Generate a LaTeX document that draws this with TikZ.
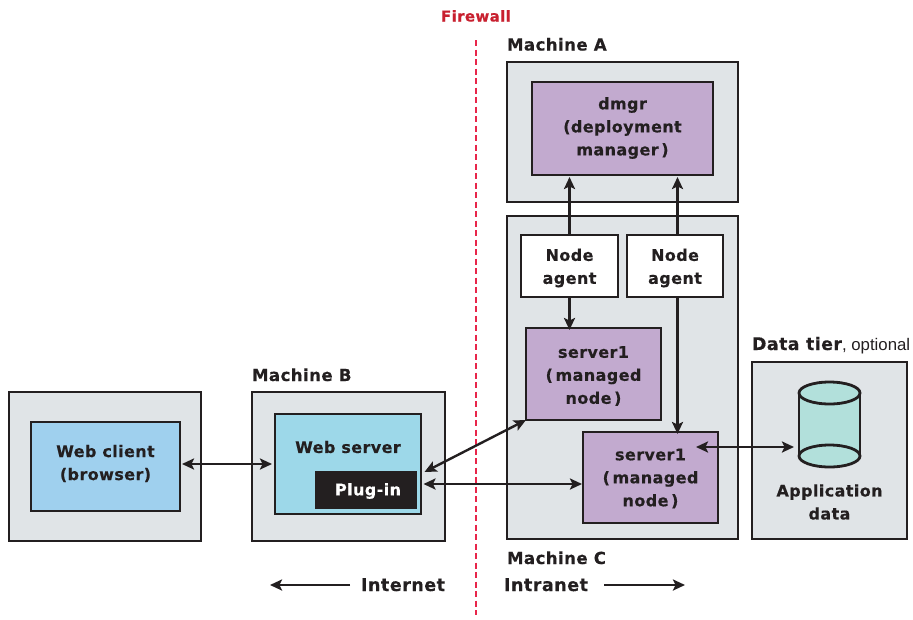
\documentclass[tikz,border=0pt]{standalone}
\usepackage{fontspec}
\setmainfont{Liberation Sans}
\newfontfamily\heavy[LetterSpace=2.5,FakeBold=0.35]{DejaVu Sans Bold}
\usetikzlibrary{arrows.meta,shapes.geometric}
\definecolor{ink}{HTML}{231F20}
\definecolor{panel}{HTML}{E0E4E7}
\definecolor{lilac}{HTML}{C2AACF}
\definecolor{sky}{HTML}{9FD0EE}
\definecolor{aqua}{HTML}{9DD8E9}
\definecolor{mint}{HTML}{B2E0DB}
\definecolor{fwred}{HTML}{C8202F}
\definecolor{fwline}{HTML}{E8254A}
\tikzset{
  x=1pt,y=-1pt,
  every node/.style={inner sep=0pt,outer sep=0pt,text=ink,font=\heavy\fontsize{16}{23}\selectfont,align=center},
  boxbase/.style={draw=ink,line width=2.8pt,rectangle,minimum width=#1},
  panelbox/.style={boxbase=#1,fill=panel},
  lilacbox/.style={boxbase=#1,fill=lilac},
  whitebox/.style={boxbase=#1,fill=white},
  lbl/.style={anchor=base west},
  biglbl/.style={lbl,font=\heavy\fontsize{16.6}{23}\selectfont},
  zonelbl/.style={lbl,font=\heavy\fontsize{17.6}{23}\selectfont},
  conn/.style={draw=ink,line width=2.4pt,-{Stealth[length=12pt,width=11pt,inset=2.5pt]}},
  biconn/.style={draw=ink,line width=2.4pt,{Stealth[length=12pt,width=11pt,inset=2.5pt]}-{Stealth[length=12pt,width=11pt,inset=2.5pt]}},
}
\begin{document}
\begin{tikzpicture}
\useasboundingbox (0,0) rectangle (913,619);
% firewall
\coordinate (fwtop) at (476,40);
\coordinate (fwbot) at (476,615);
\draw[fwline,line width=1.8pt,dash pattern=on 6pt off 3.5pt] (fwtop) -- (fwbot);
\node[lbl,text=fwred,font=\heavy\fontsize{15}{17}\selectfont] (fwlabel) at (441,21.5) {Firewall};
% panels
\node[panelbox=231,minimum height=140] (machA) at (622.5,132) {};
\node[panelbox=231,minimum height=323] (machC) at (622.5,377.5) {};
\node[panelbox=193,minimum height=149] (machB) at (348.5,466.5) {};
\node[panelbox=192,minimum height=149] (machW) at (105,466.5) {};
\node[panelbox=155,minimum height=177] (machD) at (829.5,450.5) {};
% labels
\node[biglbl] (lA) at (507,50.5) {Machine A};
\node[biglbl] (lB) at (252,381) {Machine B};
\node[biglbl] (lC) at (507,564) {Machine C};
\node[lbl,font=\heavy\fontsize{17.4}{23}\selectfont] (lD) at (752,350) {Data tier\fontspec{Liberation Sans}\fontsize{16.8}{20}\selectfont, optional};
% inner boxes
\node[lilacbox=181,minimum height=93] (dmgr) at (622.5,128.5) {};
\node (dmgrtxt) at (622.5,128) {dmgr\\(deployment\\manager\,)};
\node[whitebox=97,minimum height=62] (agent1) at (569.5,266) {};
\node (a1txt) at (569.5,268) {Node\\agent};
\node[whitebox=96,minimum height=62] (agent2) at (675,266) {};
\node (a2txt) at (675,268) {Node\\agent};
\node[lilacbox=135,minimum height=92] (srvA) at (593.5,374) {};
\node (sAtxt) at (593.5,376) {server1\\(\,managed\\node\,)};
\node[lilacbox=135,minimum height=91] (srvB) at (650.5,477.5) {};
\node (sBtxt) at (650.5,478.5) {server1\\(\,managed\\node\,)};
\node[boxbase=149,fill=sky,minimum height=89] (client) at (105.5,466.5) {};
\node (clitxt) at (105.5,463.5) {Web client\\(browser)};
\node[boxbase=146,fill=aqua,minimum height=100] (web) at (348,464) {};
\node (webtxt) at (348,447) {Web server};
\node[fill=ink,minimum width=102,minimum height=38] (plug) at (366,490) {};
\node[text=white] (plugtxt) at (368,491) {Plug-in};
% cylinder
\coordinate (cylT) at (829.5,393);
\coordinate (cylB) at (829.5,456);
\fill[mint] (799,393) -- (799,456) arc[start angle=180,end angle=360,x radius=30.5,y radius=11] -- (860,393) -- cycle;
\draw[ink,line width=2.8pt,fill=mint] (cylT) ellipse[x radius=30.5,y radius=11];
\draw[ink,line width=2.8pt] (799,393) -- (799,456);
\draw[ink,line width=2.8pt] (860,393) -- (860,456);
\draw[ink,line width=2.8pt,fill=mint] (cylB) ellipse[x radius=30.5,y radius=11];
\node (appdata) at (829.5,502) {Application\\data};
% connectors
\draw[conn] (agent1.north) -- (agent1.north |- 0,177) coordinate (a1up);
\draw[conn] ([xshift=2.5pt]agent2.north) -- ([xshift=2.5pt]agent2.north |- 0,177) coordinate (a2up);
\draw[conn] (agent1.south) -- ([yshift=-2pt]agent1.south |- srvA.north);
\draw[conn] ([xshift=2.5pt]agent2.south) -- ([xshift=2.5pt,yshift=-2pt]agent2.south |- srvB.north);
\coordinate (cliE) at (182,464);
\coordinate (webW) at (272,464);
\draw[biconn] (cliE) -- (webW);
\coordinate (diagW) at (424.5,472);
\coordinate (horW) at (423.5,484);
\coordinate (dbW) at (794,447);
\coordinate (srvBin) at (696,447);
\draw[biconn] (diagW) -- (srvA.south west);
\draw[biconn] (horW) -- ([xshift=-1pt]horW -| srvB.west);
\draw[biconn] (srvBin) -- (dbW);
% zones
\node[zonelbl] (lInternet) at (361,591) {Internet};
\node[zonelbl] (lIntranet) at (504,591) {Intranet};
\coordinate (inetL) at (270,585);
\coordinate (inetR) at (350,585);
\coordinate (itraL) at (604,585);
\coordinate (itraR) at (685,585);
\draw[conn] (inetR) -- (inetL);
\draw[conn] (itraL) -- (itraR);
\end{tikzpicture}
\end{document}
